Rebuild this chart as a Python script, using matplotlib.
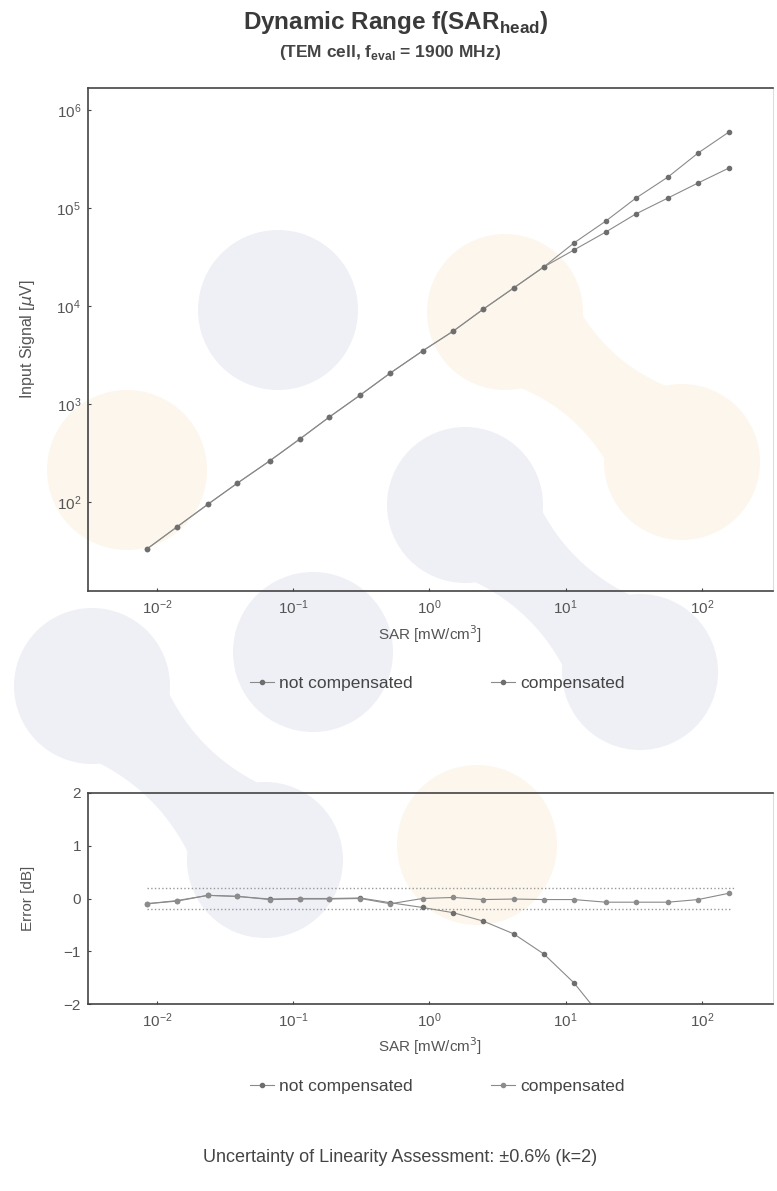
import numpy as np
import matplotlib.pyplot as plt
from matplotlib.patches import Circle, Polygon
from matplotlib.ticker import FixedLocator

plt.rcParams['font.family'] = ['Liberation Sans', 'DejaVu Sans']

# SAR values [mW/cm3]
sar = [0.0084, 0.014, 0.0237, 0.039, 0.067, 0.112, 0.184, 0.311, 0.516, 0.889,
       1.50, 2.49, 4.15, 6.89, 11.5, 19.7, 32.7, 56.3, 93.7, 158]

# input signal [uV]
sig_comp = [33, 55.6, 95, 156, 262, 440, 736, 1236, 2070, 3474,
            5560, 9310, 15270, 25000, 44000, 73600, 126000, 207000, 364000, 597000]
sig_nocomp = [33, 55.6, 95, 156, 262, 440, 736, 1236, 2070, 3474,
              5560, 9310, 15270, 25000, 37300, 56900, 86900, 126500, 180000, 256000]

# linearity error [dB]
err_comp = [-0.10, -0.05, 0.06, 0.04, -0.02, -0.01, -0.01, 0.0, -0.10, 0.0,
            0.02, -0.02, -0.01, -0.02, -0.02, -0.07, -0.07, -0.07, -0.02, 0.10]
sar_nc = sar[:16]
err_nocomp = [-0.10, -0.04, 0.06, 0.04, -0.01, 0.0, 0.0, 0.01, -0.08, -0.17,
              -0.27, -0.43, -0.67, -1.05, -1.6, -2.35]
err_limit = 0.2

W, H = 777, 1191
fig = plt.figure(figsize=(W / 100, H / 100), dpi=100)

# faint watermark of the scanned page, drawn in pixel units behind everything
bg = fig.add_axes([0, 0, 1, 1], zorder=-1)
bg.set_xlim(0, W)
bg.set_ylim(H, 0)
bg.axis('off')
blue = '#eef0f6'
peach = '#fdf6ec'


def blob(p, q, r, col, k=0.5):
    # two circles joined by a smooth pinched neck
    p, q = np.array(p, float), np.array(q, float)
    d = q - p
    n = np.array([-d[1], d[0]]) / np.hypot(*d)
    t = np.linspace(0, 1, 40)
    w = r * (k + (1 - k) * (2 * t - 1) ** 2)
    axis_pts = p + np.outer(t, d)
    side1 = axis_pts + (w[:, None] * n)
    side2 = axis_pts - (w[:, None] * n)
    bg.add_patch(Polygon(np.vstack([side1, side2[::-1]]), facecolor=col, edgecolor='none'))
    bg.add_patch(Circle(p, r, facecolor=col, edgecolor='none'))
    bg.add_patch(Circle(q, r, facecolor=col, edgecolor='none'))


for c, col in [((278, 310), blue), ((127, 470), peach), ((313, 652), blue),
               ((477, 845), peach)]:
    bg.add_patch(Circle(c, 80, facecolor=col, edgecolor='none'))
blob((505, 312), (682, 462), 78, peach)
blob((465, 505), (640, 672), 78, blue)
blob((92, 686), (265, 860), 78, blue)

line_c = '#8a8a8a'
mk_c = '#6e6e6e'
lab_c = '#555555'


def style(ax):
    ax.set_facecolor('none')
    ax.set_xscale('log')
    for s in ['left', 'bottom', 'top']:
        ax.spines[s].set_color('#444444')
        ax.spines[s].set_linewidth(1.2)
    ax.spines['right'].set_color('#dddddd')
    ax.tick_params(direction='in', length=2, colors='#444444', labelcolor=lab_c,
                   labelsize=11, pad=5)
    ax.xaxis.set_major_locator(FixedLocator([1e-2, 1e-1, 1e0, 1e1, 1e2]))
    ax.xaxis.set_minor_locator(FixedLocator([]))
    ax.set_xlim(10 ** -2.506, 10 ** 2.521)


# top: dynamic range
ax1 = fig.add_axes([88 / W, 1 - 591 / H, 685 / W, 503 / H])
style(ax1)
ax1.set_yscale('log')
ax1.set_ylim(10 ** 1.092, 10 ** 6.224)
ax1.yaxis.set_major_locator(FixedLocator([1e2, 1e3, 1e4, 1e5, 1e6]))
ax1.yaxis.set_minor_locator(FixedLocator([]))
ax1.plot(sar, sig_nocomp, '-o', color=line_c, mfc=mk_c, mec=mk_c, ms=3, lw=0.8,
         label='not compensated')
ax1.plot(sar, sig_comp, '-o', color=line_c, mfc=mk_c, mec=mk_c, ms=3, lw=0.8,
         label='compensated')
ax1.set_xlabel('SAR [mW/cm$^3$]', fontsize=11, color=lab_c, labelpad=5)
ax1.set_ylabel('Input Signal [$\\mu$V]', fontsize=11.5, color=lab_c, labelpad=14)
ax1.legend(loc='upper center', bbox_to_anchor=(0.51, -0.138), ncol=2, frameon=False,
           fontsize=12.5, handlelength=1.4, handletextpad=0.3, columnspacing=4.5,
           labelcolor='#444444')

# bottom: linearity error
ax2 = fig.add_axes([88 / W, 1 - 1004 / H, 685 / W, 211 / H])
style(ax2)
ax2.set_ylim(-2, 2)
ax2.set_yticks([-2, -1, 0, 1, 2])
ax2.set_yticklabels(['\u22122', '\u22121', '0', '1', '2'])
ax2.plot([sar[0], 175], [err_limit, err_limit], ':', color='#999999', lw=1.0)
ax2.plot([sar[0], 165], [-err_limit, -err_limit], ':', color='#999999', lw=1.0)
ax2.plot(sar_nc, err_nocomp, '-o', color=line_c, mfc=mk_c, mec=mk_c, ms=3, lw=0.8,
         label='not compensated')
ax2.plot(sar, err_comp, '-o', color=line_c, mfc='#8c8c8c', mec='#8c8c8c', ms=3, lw=0.8,
         label='compensated')
ax2.set_xlabel('SAR [mW/cm$^3$]', fontsize=11, color=lab_c, labelpad=4)
ax2.set_ylabel('Error [dB]', fontsize=11, color=lab_c, labelpad=21)
ax2.legend(loc='upper center', bbox_to_anchor=(0.51, -0.28), ncol=2, frameon=False,
           fontsize=12.5, handlelength=1.4, handletextpad=0.3, columnspacing=4.5,
           labelcolor='#444444')

fig.text(396 / W, 1 - 22 / H, 'Dynamic Range f(SAR$_{\\mathregular{head}}$)',
         ha='center', va='center', fontsize=17.5, fontweight='bold', color='#3a3a3a')
fig.text(390 / W, 1 - 53 / H, '(TEM cell, f$_{\\mathregular{eval}}$ = 1900 MHz)',
         ha='center', va='center', fontsize=12.5, fontweight='bold', color='#444444')
fig.text(400 / W, 1 - 1157 / H, 'Uncertainty of Linearity Assessment: \u00b10.6% (k=2)',
         ha='center', va='center', fontsize=13, color='#444444')

fig.savefig('out.png', dpi=100)
